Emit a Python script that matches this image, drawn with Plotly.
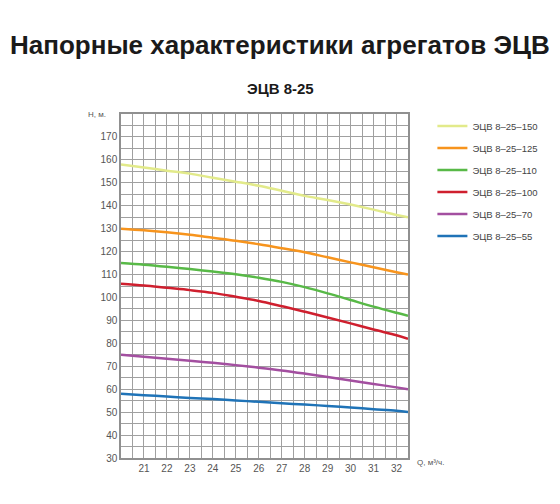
import plotly.graph_objects as go

# расход Q, м3/ч
q = [20, 21, 22, 23, 24, 25, 26, 27, 28, 29, 30, 31, 32, 32.5]

names = ["ЭЦВ 8–25–150", "ЭЦВ 8–25–125", "ЭЦВ 8–25–110",
         "ЭЦВ 8–25–100", "ЭЦВ 8–25–70", "ЭЦВ 8–25–55"]

h_150 = [158, 156.7, 155.3, 154, 152.2, 150.5, 148.7, 146.5, 144.3, 142.5, 140.5, 138.3, 136, 135]
h_125 = [130, 129.3, 128.4, 127.3, 126, 124.7, 123.2, 121.5, 119.7, 117.5, 115.3, 113.2, 111, 110]
h_110 = [115, 114.3, 113.4, 112.4, 111.3, 110.1, 108.6, 106.8, 104.5, 101.8, 98.9, 96, 93.3, 92]
h_100 = [106, 105.2, 104.2, 103.2, 102, 100.3, 98.5, 96.2, 93.8, 91.3, 88.7, 86, 83.5, 82]
h_70 = [75, 74.2, 73.3, 72.4, 71.5, 70.5, 69.4, 68.2, 66.8, 65.3, 63.8, 62.3, 60.8, 60]
h_55 = [58, 57.4, 56.8, 56.2, 55.7, 55.1, 54.5, 53.9, 53.3, 52.7, 52, 51.3, 50.6, 50]

x_ticks = list(range(21, 33))
y_ticks = list(range(30, 171, 10))

colors = ["#e2ea8a", "#f7941d", "#58b947", "#cf1f2e", "#a34fa0", "#1f73b7"]
series = [h_150, h_125, h_110, h_100, h_70, h_55]

fig = go.Figure()
for name, h, c in zip(names, series, colors):
    fig.add_trace(go.Scatter(x=q, y=h, name=name, mode="lines", legendgroup=name,
                             line=dict(color=c, width=2.5, shape="spline")))

# страница имеет отступ 8px, поля подобраны под него
L, R, T, B = 113, 160, 106, 54
pw, ph = 560 - L - R, 504 - T - B
cx = (272 - L) / pw  # центр заголовка

grid = "#a0a0a0"
fig.update_layout(
    width=560, height=504,
    margin=dict(l=L, r=R, t=T, b=B),
    paper_bgcolor="white", plot_bgcolor="white",
    font=dict(family="Liberation Sans, Arial", color="#555555", size=10),
    showlegend=True,
    legend=dict(x=1.085, y=1.007, xanchor="left", yanchor="top",
                font=dict(size=9.5, color="#444444"), tracegroupgap=3,
                itemwidth=30, bgcolor="rgba(0,0,0,0)"),
    xaxis=dict(range=[20, 32.5], tickvals=x_ticks, showgrid=True, gridcolor=grid,
               gridwidth=1, zeroline=False, showline=True, linecolor="#909090",
               linewidth=1.5, mirror=True, ticks="", tickfont=dict(size=10),
               minor=dict(dtick=0.5, tick0=20, showgrid=True, gridcolor=grid, gridwidth=1)),
    yaxis=dict(range=[30, 180], tickvals=y_ticks, showgrid=True, gridcolor=grid,
               gridwidth=1, zeroline=False, showline=True, linecolor="#909090",
               linewidth=1.5, mirror=True, ticks="", tickfont=dict(size=10),
               minor=dict(dtick=5, tick0=30, showgrid=True, gridcolor=grid, gridwidth=1)),
    annotations=[
        dict(text="<b>Напорные характеристики агрегатов ЭЦВ</b>", xref="paper", yref="paper",
             x=cx, y=1 + (T - 37) / ph, xanchor="center", yanchor="middle",
             showarrow=False, font=dict(size=26, color="#1a1a1a", family="Liberation Sans, Arial")),
        dict(text="<b>ЭЦВ 8-25</b>", xref="paper", yref="paper",
             x=cx, y=1 + (T - 80) / ph, xanchor="center", yanchor="middle",
             showarrow=False, font=dict(size=15, color="#1a1a1a", family="Liberation Sans, Arial")),
        dict(text="H, м.", xref="paper", yref="paper", x=-0.045, y=1.0, xanchor="right",
             yanchor="middle", showarrow=False, font=dict(size=8, color="#555555")),
        dict(text="Q, м³/ч.", xref="paper", yref="paper", x=1.025, y=0.005, xanchor="left",
             yanchor="top", showarrow=False, font=dict(size=8, color="#555555")),
    ],
)

fig.write_html("out.html")
